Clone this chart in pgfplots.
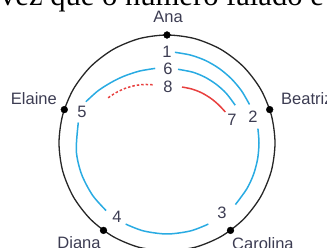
\documentclass[border=0pt]{standalone}
\usepackage{pgfplots}
\pgfplotsset{compat=1.18}
\usepackage{fontspec}
\setmainfont{Liberation Serif}
\newfontfamily\labfont{Liberation Sans}
\definecolor{cblue}{RGB}{41,171,226}
\definecolor{cred}{RGB}{232,64,63}
\definecolor{ctext}{RGB}{60,60,82}
\begin{document}
\begin{tikzpicture}
\begin{axis}[at={(0,0)},anchor=south west,scale only axis,
  width=327pt,height=248pt,xmin=0,xmax=327,ymin=0,ymax=248,
  hide axis,clip=false]
% outer circle
\addplot[black!85,line width=1.3pt,smooth] coordinates {
(167,-3)(194.95,0.68)(221,11.47)(243.37,28.63)(260.53,51)(271.32,77.05)(275,105)
(271.32,132.95)(260.53,159)(243.37,181.37)(221,198.53)(194.95,209.32)(167,213)
(139.05,209.32)(113,198.53)(90.63,181.37)(73.47,159)(62.68,132.95)(59,105)
(62.68,77.05)(73.47,51)(90.63,28.63)(113,11.47)(139.05,0.68)(167,-3)};
% blue arcs
\addplot[cblue,line width=1.5pt,smooth] coordinates {
(174.9,195.7)(190.6,192.9)(205.5,187.5)(219.2,179.5)(231.3,169.3)(241.5,157.2)(249.5,143.5)};
\addplot[cblue,line width=1.5pt,smooth] coordinates {
(257.9,119.4)(259,105)(257.6,89.0)(253.5,73.5)(246.7,59)(235.4,43.4)};
\addplot[cblue,line width=1.5pt,smooth] coordinates {
(208.3,23.9)(190.6,17.1)(167,14)(143.4,17.1)(125.7,23.9)};
\addplot[cblue,line width=1.5pt,smooth] coordinates {
(106.1,37.4)(92.5,52.8)(81.5,73.9)(76.3,97.1)(78.3,125.5)};
\addplot[cblue,line width=1.5pt,smooth] coordinates {
(85.9,146.3)(97.9,157.1)(110.7,165.3)(123.7,171.7)(139.4,176.9)(155.2,179.6)};
\addplot[cblue,line width=1.5pt,smooth] coordinates {
(178.0,178.7)(192.8,175.8)(205,170.8)(216.2,163.7)(226.2,154.7)(235.2,142.8)};
% red arcs
\addplot[cred,line width=1.5pt,smooth] coordinates {
(182.0,161.0)(192.1,158.9)(202.0,155.0)(211.3,149.3)(219.0,142.8)(225.3,136.0)};
\addplot[cred,line width=1.5pt,smooth,dash pattern=on 2.5pt off 2pt] coordinates {
(152.7,163.2)(143.8,163.5)(134.5,162.3)(125.1,159.6)(115.9,155.3)(107.1,149.5)};
% dots
\addplot[only marks,mark=*,mark size=3.4pt,black] coordinates {
(167,213)(269.7,138.4)(230.5,17.6)(103.5,17.6)(64.3,138.4)};
% labels
\begin{scope}[every node/.style={text=ctext,font=\labfont\fontsize{16.5}{19}\selectfont,inner sep=0pt}]
\node[anchor=base] at (axis cs:168,225) {Ana};
\node[anchor=base west] at (axis cs:281,143) {Beatriz};
\node[anchor=base east] at (axis cs:57,143) {Elaine};
\node[anchor=base] at (axis cs:79,-1) {Diana};
\node[anchor=base west] at (axis cs:232,-2) {Carolina};
\node[anchor=center] at (axis cs:167,196) {1};
\node[anchor=center] at (axis cs:253,131) {2};
\node[anchor=center] at (axis cs:222,35) {3};
\node[anchor=center] at (axis cs:117,31) {4};
\node[anchor=center] at (axis cs:82,136) {5};
\node[anchor=center] at (axis cs:168,179) {6};
\node[anchor=center] at (axis cs:232,128) {7};
\node[anchor=center] at (axis cs:168,161) {8};
\end{scope}
\node[anchor=base west,inner sep=0pt,font=\fontsize{30.6}{36}\selectfont] at (axis cs:0,242.5) {vez que o número falado é};
\end{axis}
\pgfresetboundingbox
\path[use as bounding box] (0,0) rectangle (327pt,248pt);
\end{tikzpicture}
\end{document}
